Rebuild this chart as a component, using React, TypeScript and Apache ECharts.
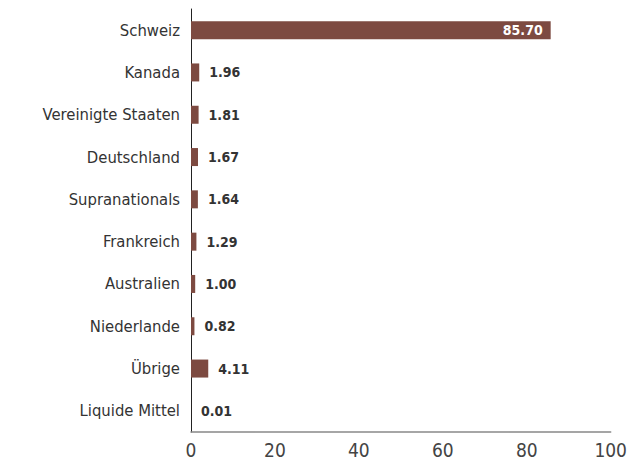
import React, { useEffect, useRef } from "react";
import * as echarts from "echarts";

const categories = [
  "Schweiz",
  "Kanada",
  "Vereinigte Staaten",
  "Deutschland",
  "Supranationals",
  "Frankreich",
  "Australien",
  "Niederlande",
  "Übrige",
  "Liquide Mittel",
];
const values = [85.7, 1.96, 1.81, 1.67, 1.64, 1.29, 1.0, 0.82, 4.11, 0.01];
const xTicks = [0, 20, 40, 60, 80, 100];

const FONT = "'DejaVu Sans Condensed', 'Liberation Sans Narrow', sans-serif";
const BAR = "#7d4a41";

export default function App() {
  const ref = useRef<HTMLDivElement>(null);
  useEffect(() => {
    if (!ref.current) return;
    const chart = echarts.init(ref.current, null, { renderer: "svg" });
    chart.setOption({
      animation: false,
      grid: { left: 191, right: 19, top: 9, bottom: 39, containLabel: false },
      xAxis: {
        type: "value",
        min: xTicks[0],
        max: xTicks[xTicks.length - 1],
        interval: 20,
        axisLine: { show: true, lineStyle: { color: "#888", width: 1.5 } },
        axisTick: { show: false },
        splitLine: { show: false },
        axisLabel: { fontFamily: FONT, fontSize: 19, color: "#444", margin: 8 },
      },
      yAxis: {
        type: "category",
        inverse: true,
        data: categories,
        axisLine: { show: true, lineStyle: { color: "#222", width: 1 } },
        axisTick: { show: false },
        axisLabel: { fontFamily: FONT, fontSize: 16.5, color: "#333", margin: 11 },
      },
      series: [
        {
          type: "bar",
          barWidth: 18,
          itemStyle: { color: BAR },
          data: values.map((v, i) =>
            i === 0
              ? {
                  value: v,
                  label: {
                    position: "insideRight",
                    color: "#fff",
                    distance: 8,
                  },
                }
              : v
          ),
          label: {
            show: true,
            position: "right",
            distance: 10,
            fontFamily: FONT,
            fontSize: 14,
            fontWeight: "bold",
            color: "#333",
            formatter: (p: any) => Number(p.value).toFixed(2),
          },
        },
      ],
    });
    return () => chart.dispose();
  }, []);
  return (
    <div
      ref={ref}
      style={{ position: "absolute", left: 0, top: 0, width: 630, height: 471 }}
    />
  );
}
